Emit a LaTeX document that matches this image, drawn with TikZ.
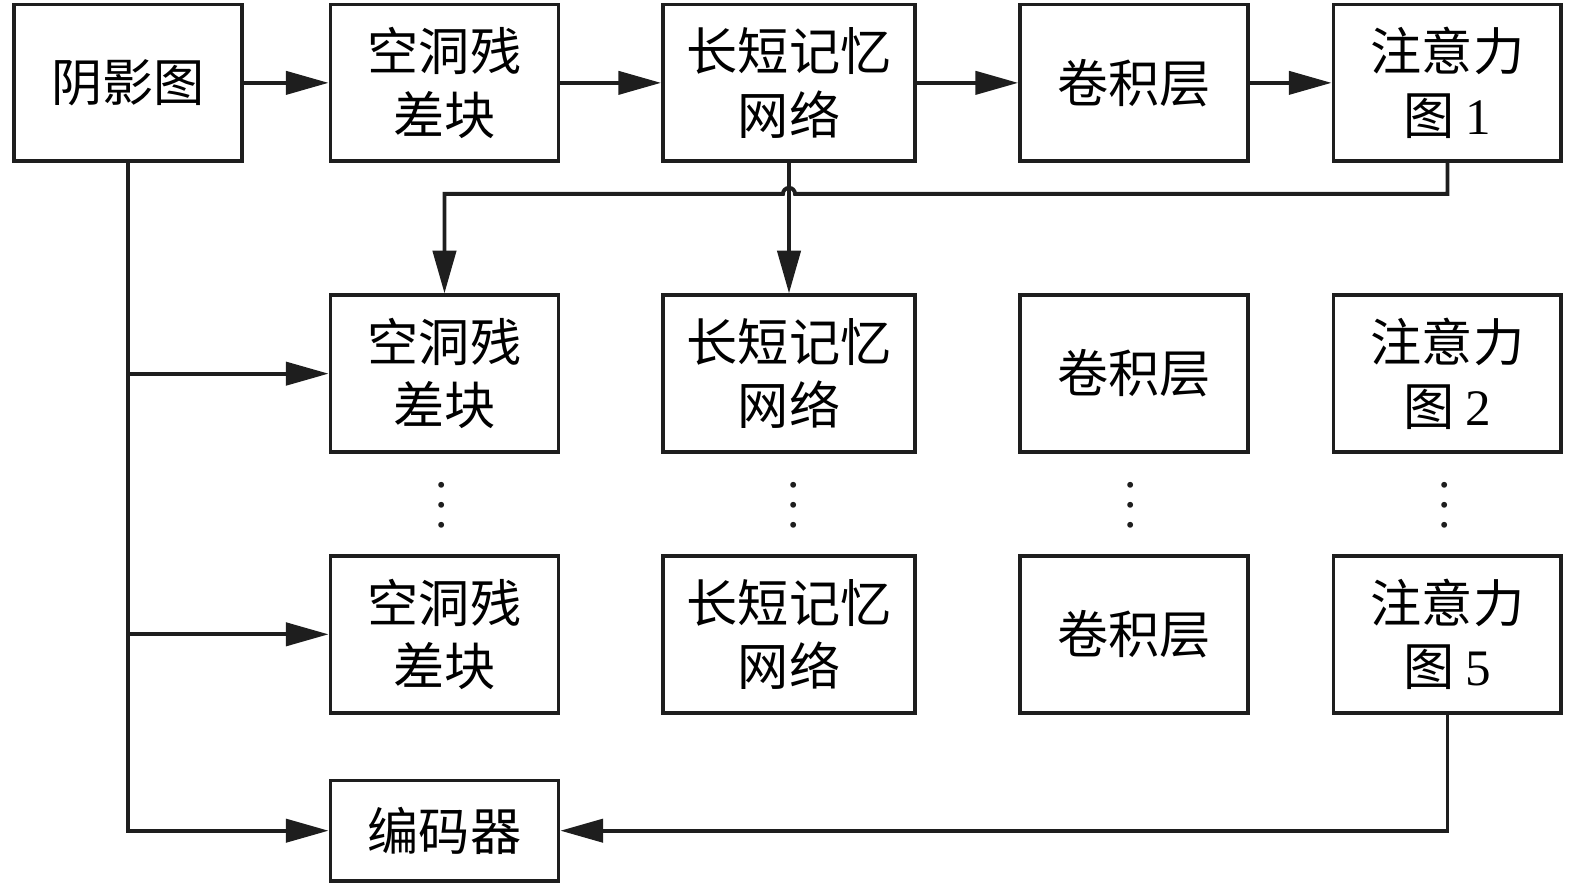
\documentclass[tikz,border=0pt]{standalone}
\usepackage{fontspec}
\setmainfont{Liberation Serif}
\newfontfamily\cjk{Noto Sans CJK SC}
\usepackage{tikz}
\usetikzlibrary{arrows.meta, calc}
\definecolor{ink}{RGB}{30,30,30}
\tikzset{
  blk/.style    ={rectangle, draw=ink, line width=2.2pt, fill=white, inner sep=0pt,
                  minimum height=3.12cm, align=center, font=\fontsize{29}{36}\selectfont\cjk},
  narrow/.style ={blk, minimum width=4.54cm},
  wide/.style   ={blk, minimum width=5.02cm},
  arr/.style    ={-{Triangle[length=0.85cm, width=0.46cm]}, line width=2.2pt, color=ink},
  dots/.style   ={font=\fontsize{28}{11.5}\selectfont, inner sep=0pt, align=center, text=ink},
}
\begin{document}
\begin{tikzpicture}[x=0.02cm, y=-0.02cm]
\useasboundingbox (0,0) rectangle (1568,881);
\node[narrow] (shadow) at (127.5,82.5) {阴影图};
\foreach \r/\y/\n in {1/82.5/1, 2/372/2, 3/631.5/5} {
  \node[narrow] (asp\r) at (442.5,\y) {空洞残\\差块};
  \node[wide]   (lstm\r) at (785.5,\y) {长短记忆\\网络};
  \node[narrow] (conv\r) at (1129,\y) {卷积层};
  \node[narrow] (att\r) at (1441,\y) {注意力\\图 {\rmfamily\n}};
}
\node[narrow, minimum height=2cm] (enc) at (442.5,827) {编码器};
\foreach \x/\name in {440/a, 790/b, 1126/c, 1438/d}
  \node[dots] (dots\name) at (\x,503) {.\\.\\.};
% first row
\draw[arr] (shadow) -- (asp1);
\draw[arr] (asp1) -- (lstm1);
\draw[arr] (lstm1) -- (conv1);
\draw[arr] (conv1) -- (att1);
% shadow map feeds every block
\draw[arr] (shadow.south) |- (enc.west);
\draw[arr] (shadow.south |- asp2.west) -- (asp2.west);
\draw[arr] (shadow.south |- asp3.west) -- (asp3.west);
% feedback into second row
\coordinate (hop) at (785.5,193);
\draw[arr] (att1.south) |- ([xshift=0.12cm]hop) arc[start angle=0, end angle=180, radius=0.12cm]
  -- (asp2.north |- hop) -- (asp2.north);
\draw[arr] (lstm1.south) -- (lstm2.north);
\draw[arr] (att3.south) |- (enc.east);
\end{tikzpicture}
\end{document}
